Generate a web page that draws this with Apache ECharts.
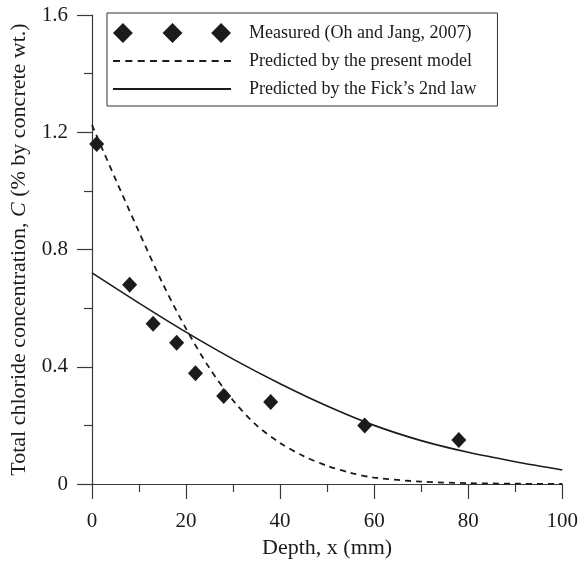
<!DOCTYPE html>
<html>
<head>
<meta charset="utf-8">
<script src="https://cdn.jsdelivr.net/npm/echarts@6/dist/echarts.min.js"></script>
<style>
  html, body { margin: 0; padding: 0; background: #fff; }
  #chart { width: 581px; height: 568px; }
</style>
</head>
<body>
<div id="chart"></div>
<script>
// Measured chloride profile (depth in mm, % by concrete wt.)
const measuredDepth = [1, 8, 13, 18, 22, 28, 38, 58, 78];
const measuredConc  = [1.16, 0.68, 0.547, 0.482, 0.378, 0.30, 0.28, 0.20, 0.15];

// Present model prediction
const modelDepth = [0, 5, 10, 15, 20, 25, 30, 35, 40, 45, 50, 55, 60, 70, 80, 90, 100];
const modelConc  = [1.225, 1.04, 0.86, 0.685, 0.53, 0.395, 0.285, 0.20, 0.14, 0.095, 0.062, 0.038, 0.022, 0.008, 0.003, 0.001, 0];

// Fick's 2nd law prediction
const fickDepth = [0, 10, 20, 30, 40, 50, 60, 70, 80, 90, 100];
const fickConc  = [0.72, 0.617, 0.518, 0.426, 0.342, 0.266, 0.20, 0.148, 0.108, 0.076, 0.048];

const xTicks = [0, 20, 40, 60, 80, 100];
const yTicks = [0, 0.4, 0.8, 1.2, 1.6];

const seriesNames = [
  'Measured (Oh and Jang, 2007)',
  'Predicted by the present model',
  "Predicted by the Fick\u2019s 2nd law"
];

const pair = (xs, ys) => xs.map((x, i) => [x, ys[i]]);

const FONT = 'Liberation Serif';
const INK = '#1b1b1b';
const AXIS = '#3a3a3a';

// Legend glyphs: three diamonds, a dashed stroke and a solid stroke
const diamondsIcon = 'path://M0,10L10,0L20,10L10,20Z M50,10L60,0L70,10L60,20Z M99,10L109,0L119,10L109,20Z';
let dashedIcon = 'path://';
for (let i = 0; i < 10; i++) {
  const x0 = (i * 11.6).toFixed(1);
  dashedIcon += `M${x0},0h6.6v1.7h-6.6Z `;
}
const solidIcon = 'path://M0,0h112v1.7h-112Z';

const chart = echarts.init(document.getElementById('chart'), null, { renderer: 'canvas' });

chart.setOption({
  backgroundColor: '#fff',
  animation: false,
  textStyle: { fontFamily: FONT, color: INK },
  grid: { left: 92, right: 18, top: 15, bottom: 84, containLabel: false },
  legend: {
    orient: 'vertical',
    left: 107,
    top: 13,
    borderColor: '#333',
    borderWidth: 1,
    backgroundColor: '#fff',
    padding: [10, 21, 7, 6],
    itemWidth: 118,
    itemHeight: 20,
    itemGap: 8,
    textStyle: { fontFamily: FONT, fontSize: 18, color: INK, lineHeight: 20, padding: [0, 0, 0, 13] },
    selectedMode: false,
    data: [
      { name: seriesNames[0], icon: diamondsIcon, itemStyle: { color: INK, opacity: 1 } },
      { name: seriesNames[1], icon: dashedIcon, itemStyle: { color: INK, opacity: 1 } },
      { name: seriesNames[2], icon: solidIcon, itemStyle: { color: INK, opacity: 1 } }
    ]
  },
  xAxis: {
    type: 'value',
    min: xTicks[0],
    max: xTicks[xTicks.length - 1],
    interval: 20,
    name: 'Depth, x (mm)',
    nameLocation: 'middle',
    nameGap: 53,
    nameTextStyle: { fontFamily: FONT, fontSize: 22, color: INK },
    axisLine: { show: true, onZero: false, lineStyle: { color: AXIS, width: 1.2 } },
    axisTick: { show: true, inside: false, length: 15, lineStyle: { color: AXIS, width: 1.2 } },
    minorTick: { show: true, splitNumber: 2, length: 8, lineStyle: { color: AXIS, width: 1.2 } },
    axisLabel: { fontFamily: FONT, fontSize: 21, color: INK, margin: 27 },
    splitLine: { show: false }
  },
  yAxis: {
    type: 'value',
    min: yTicks[0],
    max: yTicks[yTicks.length - 1],
    interval: 0.4,
    name: '{a|Total chloride concentration, }{i|C}{a| (% by concrete wt.)}',
    nameLocation: 'middle',
    nameGap: 62,
    nameRotate: 90,
    nameTextStyle: {
      rich: {
        a: { fontFamily: FONT, fontSize: 22, color: INK },
        i: { fontFamily: FONT, fontSize: 22, color: INK, fontStyle: 'italic' }
      }
    },
    axisLine: { show: true, onZero: false, lineStyle: { color: AXIS, width: 1.2 } },
    axisTick: { show: true, inside: false, length: 15, lineStyle: { color: AXIS, width: 1.2 } },
    minorTick: { show: true, splitNumber: 2, length: 8, lineStyle: { color: AXIS, width: 1.2 } },
    axisLabel: {
      fontFamily: FONT, fontSize: 21, color: INK, margin: 24,
      formatter: v => (v === 0 ? '0' : v.toFixed(1))
    },
    splitLine: { show: false }
  },
  series: [
    {
      name: seriesNames[0],
      type: 'scatter',
      symbol: 'diamond',
      symbolSize: [15, 16],
      itemStyle: { color: INK, opacity: 1 },
      data: pair(measuredDepth, measuredConc),
      z: 5
    },
    {
      name: seriesNames[1],
      type: 'line',
      showSymbol: false,
      symbol: 'none',
      smooth: 0.3,
      lineStyle: { color: INK, width: 1.8, type: [6, 5] },
      itemStyle: { color: INK },
      data: pair(modelDepth, modelConc)
    },
    {
      name: seriesNames[2],
      type: 'line',
      showSymbol: false,
      symbol: 'none',
      smooth: 0.3,
      lineStyle: { color: INK, width: 1.6, type: 'solid' },
      itemStyle: { color: INK },
      data: pair(fickDepth, fickConc)
    }
  ]
});
</script>
</body>
</html>
